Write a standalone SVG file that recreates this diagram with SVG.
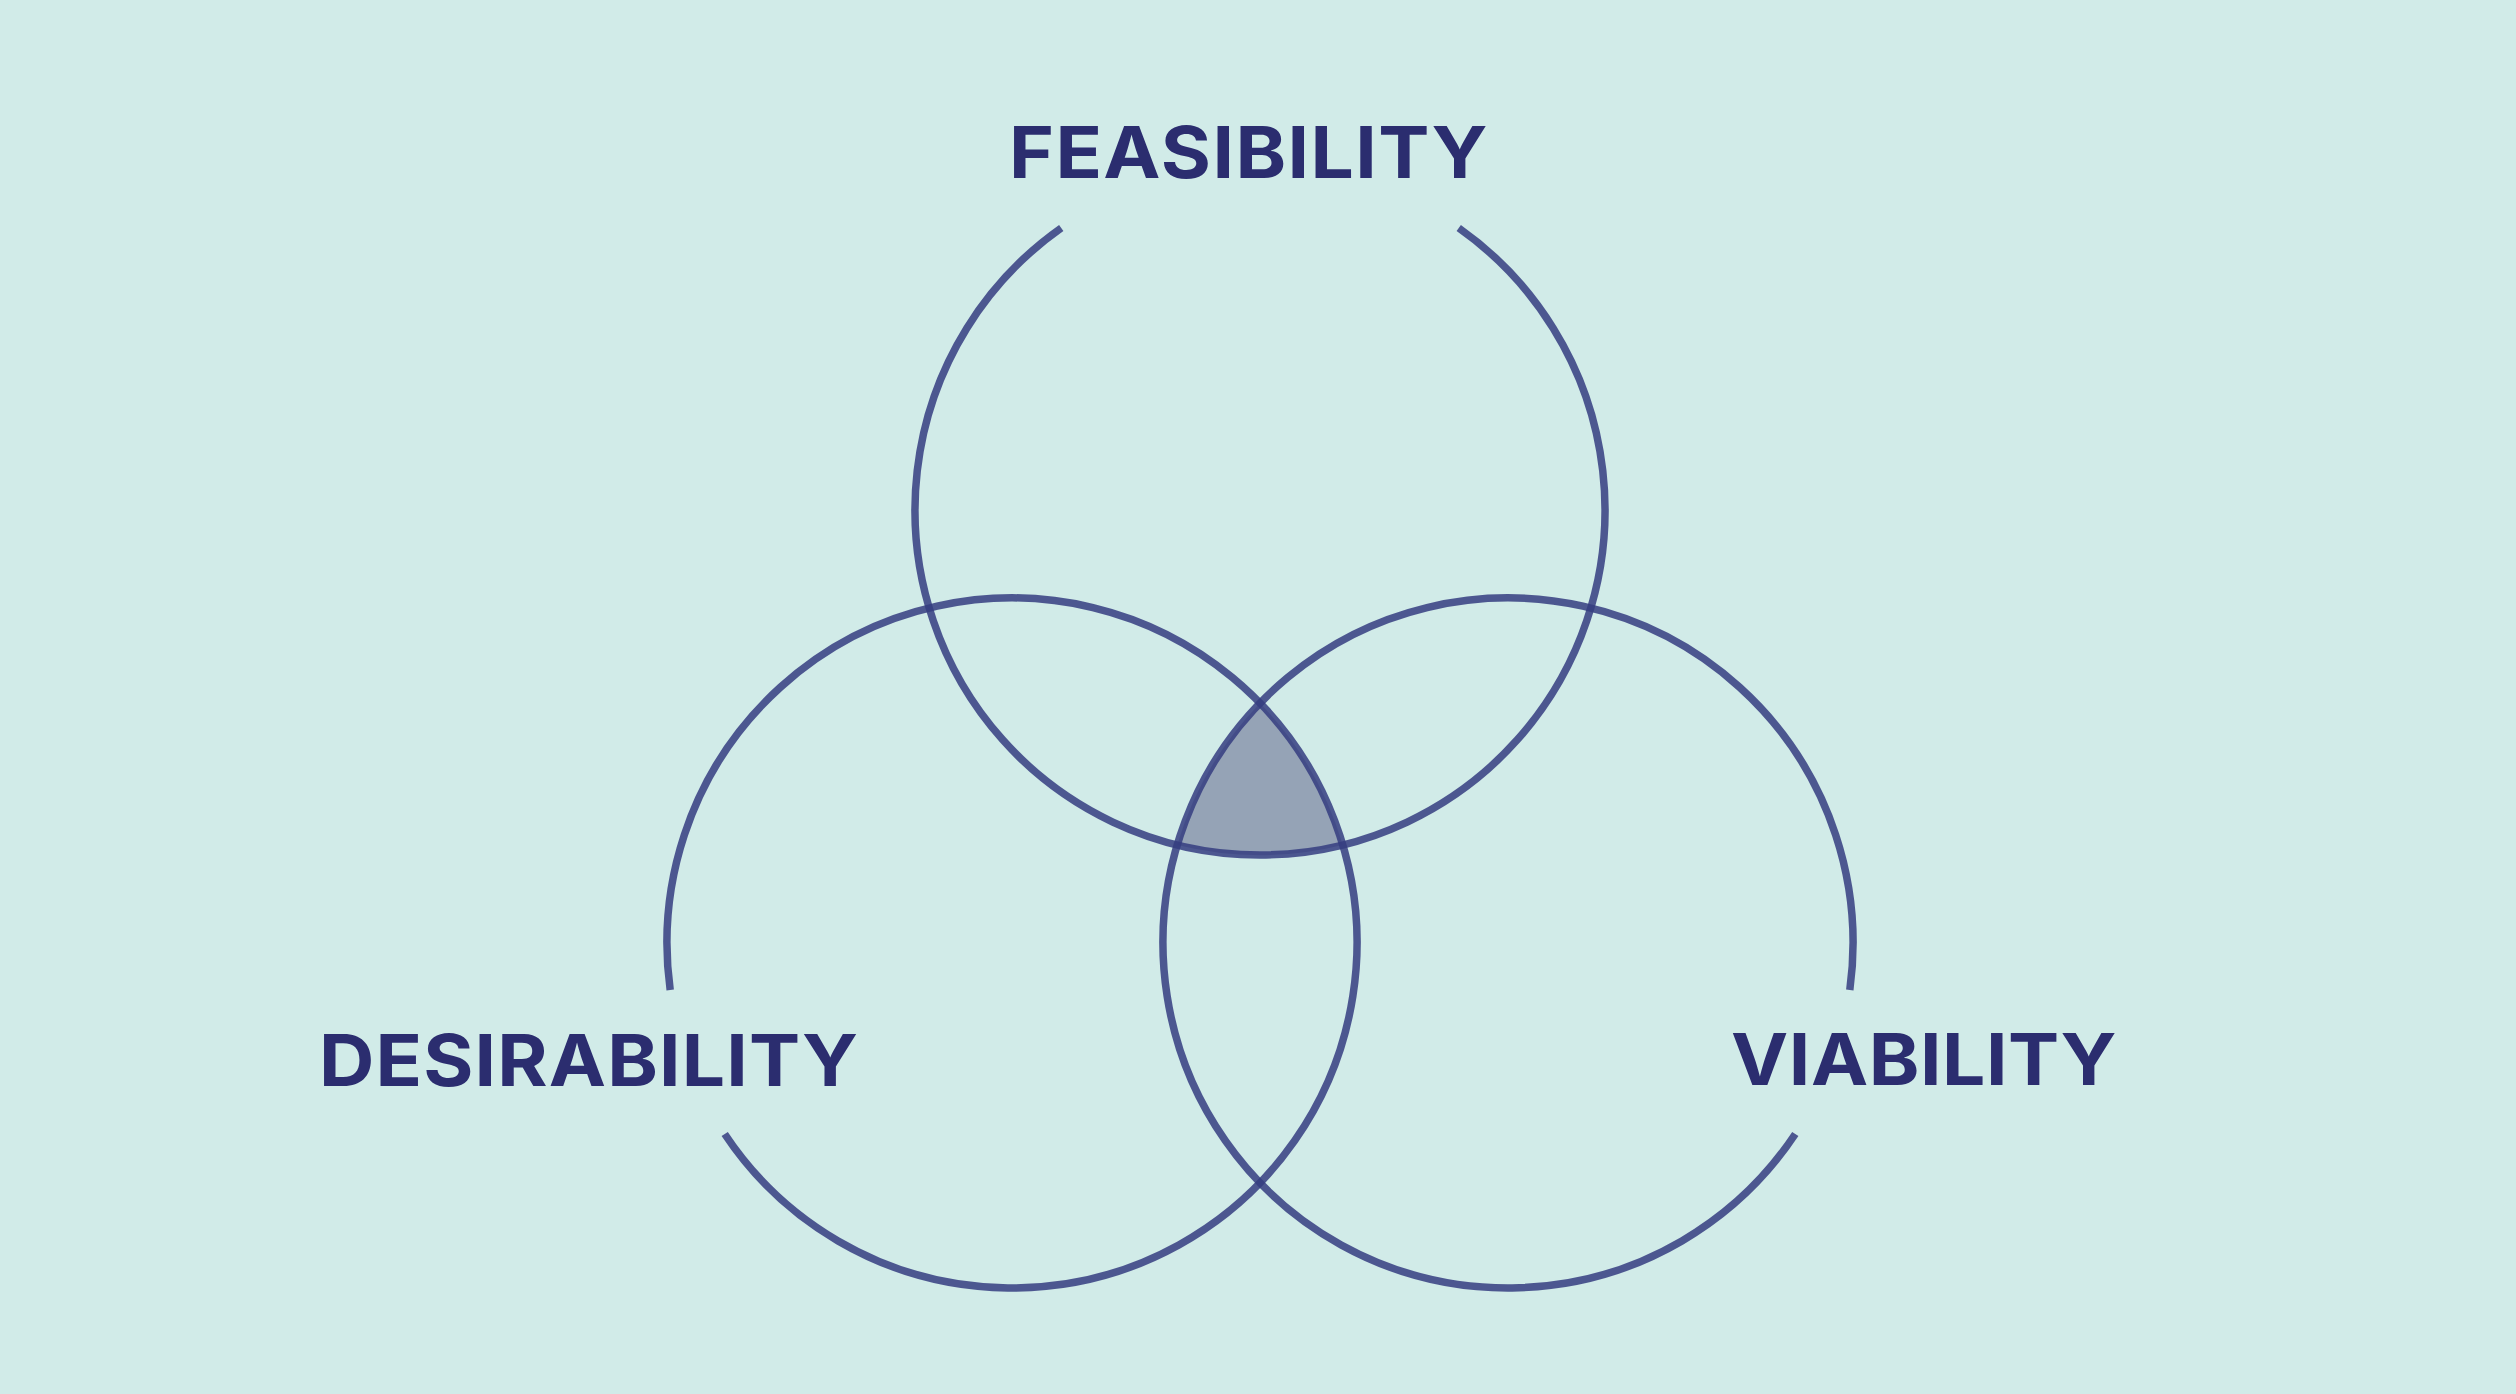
<svg xmlns="http://www.w3.org/2000/svg" width="2516" height="1394" viewBox="0 0 2516 1394">
  <style>
    .ring { fill: none; stroke: #353d80; stroke-opacity: 0.85; stroke-width: 7.5; stroke-linecap: butt; }
    .label { font-family: Inter, "Liberation Sans", "Open Sans", sans-serif; font-weight: 700; font-size: 71px; fill: #2b2d6f; }
  </style>
  <rect x="0" y="0" width="2516" height="1394" fill="#d1ebe8"/>
  <g id="overlap">
    <path d="M1260,703.2 A345,345 0 0 0 1177.2,844.9 A345,345 0 0 0 1342.8,844.9 A345,345 0 0 0 1260,703.2 Z" fill="#95a3b6"/>
  </g>
  <g id="feasibility">
    <path class="ring" d="M1458.75,228 A345,345 0 1 1 1061.25,228"/>
    <text class="label" transform="translate(1009,178) scale(1.08,1)" x="0" y="0" textLength="443" lengthAdjust="spacing">FEASIBILITY</text>
  </g>
  <g id="desirability">
    <path class="ring" d="M670.2,990 A345,345 0 1 1 724.7,1134"/>
    <text class="label" transform="translate(319,1086) scale(1.08,1)" x="0" y="0" textLength="499" lengthAdjust="spacing">DESIRABILITY</text>
  </g>
  <g id="viability">
    <path class="ring" d="M1849.8,990 A345,345 0 1 0 1795.3,1134"/>
    <text class="label" transform="translate(1731,1085) scale(1.08,1)" x="0" y="0" textLength="357" lengthAdjust="spacing">VIABILITY</text>
  </g>
  <g id="connectors"/>
</svg>
